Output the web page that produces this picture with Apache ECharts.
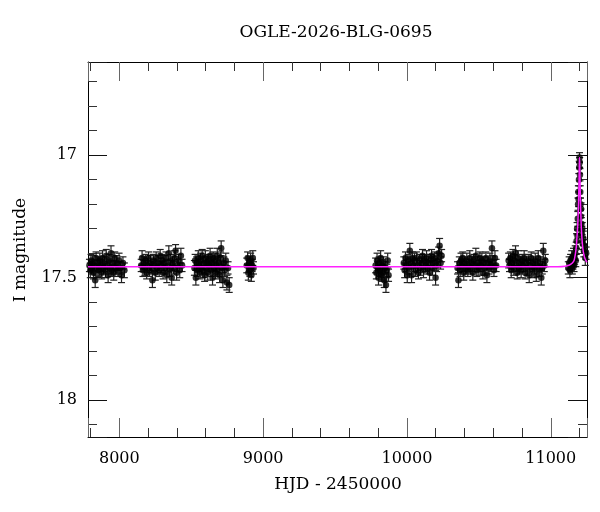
<!DOCTYPE html>
<html><head><meta charset="utf-8">
<script src="https://cdn.jsdelivr.net/npm/echarts@6/dist/echarts.min.js"></script>
<style>html,body{margin:0;padding:0;background:#fff}#c{width:600px;height:512px}</style>
</head><body><div id="c"></div>
<script>
const chartTitle = 'OGLE-2026-BLG-0695';
const xName = 'HJD - 2450000';
const yName = 'I magnitude';
const xRange = [7782, 11252];
const yRange = [16.62, 18.15];

// [HJD-2450000, I mag, error]
const season1 = [[7792,17.45,0.025],[7798,17.47,0.03],[7803,17.43,0.025],[7808,17.46,0.025],[7814,17.44,0.03],[7820,17.48,0.025],[7826,17.45,0.025],[7832,17.51,0.03],[7838,17.42,0.025],[7845,17.46,0.03],[7851,17.44,0.025],[7858,17.47,0.025],[7864,17.43,0.03],[7870,17.45,0.025],[7877,17.48,0.025],[7883,17.42,0.03],[7890,17.46,0.025],[7896,17.44,0.025],[7903,17.47,0.03],[7909,17.41,0.025],[7916,17.45,0.025],[7922,17.49,0.03],[7929,17.43,0.025],[7935,17.46,0.025],[7942,17.40,0.03],[7948,17.47,0.025],[7955,17.44,0.025],[7961,17.48,0.03],[7968,17.42,0.025],[7975,17.46,0.025],[7982,17.44,0.03],[7990,17.47,0.025],[7998,17.43,0.03],[8006,17.46,0.025],[8015,17.49,0.03],[8025,17.44,0.025],[8035,17.47,0.03]];
const season2 = [[8152,17.45,0.025],[8158,17.42,0.03],[8164,17.47,0.025],[8170,17.44,0.025],[8177,17.46,0.03],[8183,17.43,0.025],[8190,17.48,0.025],[8196,17.45,0.03],[8203,17.42,0.025],[8210,17.47,0.025],[8216,17.44,0.03],[8223,17.46,0.025],[8230,17.51,0.03],[8236,17.43,0.025],[8243,17.45,0.025],[8250,17.48,0.03],[8256,17.42,0.025],[8263,17.46,0.025],[8270,17.44,0.03],[8277,17.47,0.025],[8284,17.41,0.025],[8290,17.45,0.03],[8297,17.43,0.025],[8304,17.48,0.025],[8310,17.44,0.03],[8317,17.46,0.025],[8324,17.42,0.025],[8330,17.49,0.03],[8337,17.45,0.025],[8344,17.40,0.03],[8350,17.47,0.025],[8357,17.43,0.025],[8364,17.50,0.03],[8370,17.44,0.025],[8377,17.46,0.025],[8384,17.42,0.03],[8391,17.39,0.025],[8398,17.48,0.03],[8405,17.45,0.025],[8412,17.43,0.025],[8420,17.47,0.03],[8428,17.41,0.03],[8436,17.45,0.025]];
const season3 = [[8522,17.46,0.03],[8527,17.43,0.025],[8532,17.50,0.03],[8538,17.44,0.025],[8543,17.47,0.025],[8549,17.42,0.03],[8554,17.45,0.025],[8560,17.48,0.025],[8565,17.43,0.03],[8571,17.46,0.025],[8576,17.41,0.025],[8582,17.47,0.03],[8587,17.44,0.025],[8593,17.49,0.025],[8598,17.42,0.03],[8604,17.46,0.025],[8609,17.44,0.025],[8615,17.48,0.03],[8620,17.43,0.025],[8626,17.45,0.025],[8631,17.41,0.03],[8637,17.47,0.025],[8642,17.44,0.025],[8648,17.50,0.03],[8653,17.42,0.025],[8659,17.46,0.025],[8664,17.43,0.03],[8670,17.48,0.025],[8675,17.45,0.025],[8681,17.41,0.03],[8686,17.47,0.025],[8692,17.44,0.025],[8697,17.49,0.03],[8703,17.42,0.025],[8708,17.38,0.03],[8714,17.46,0.025],[8720,17.51,0.03],[8726,17.44,0.025],[8732,17.47,0.025],[8740,17.43,0.03],[8748,17.52,0.03],[8756,17.46,0.025],[8764,17.53,0.03]];
const season4 = [[8886,17.45,0.03],[8892,17.42,0.025],[8897,17.48,0.03],[8903,17.44,0.025],[8908,17.47,0.025],[8913,17.43,0.03],[8918,17.49,0.025],[8923,17.45,0.025],[8928,17.42,0.03],[8933,17.46,0.025]];
const season5 = [[9782,17.45,0.03],[9787,17.48,0.025],[9792,17.43,0.03],[9797,17.46,0.025],[9802,17.50,0.03],[9807,17.44,0.025],[9812,17.47,0.025],[9817,17.42,0.03],[9822,17.49,0.025],[9827,17.45,0.025],[9832,17.48,0.03],[9837,17.44,0.025],[9842,17.51,0.03],[9848,17.46,0.025],[9854,17.53,0.03],[9860,17.47,0.025],[9866,17.43,0.03],[9872,17.49,0.025]];
const season6 = [[9978,17.44,0.025],[9984,17.47,0.03],[9990,17.42,0.025],[9996,17.45,0.025],[10002,17.49,0.03],[10008,17.43,0.025],[10014,17.46,0.025],[10020,17.39,0.03],[10026,17.44,0.025],[10032,17.49,0.03],[10038,17.42,0.025],[10045,17.45,0.025],[10052,17.43,0.03],[10059,17.47,0.025],[10066,17.42,0.025],[10073,17.45,0.03],[10080,17.48,0.025],[10087,17.43,0.025],[10094,17.46,0.03],[10101,17.44,0.025],[10108,17.41,0.025],[10115,17.47,0.03],[10122,17.43,0.025],[10129,17.45,0.025],[10136,17.42,0.03],[10143,17.46,0.025],[10150,17.44,0.025],[10157,17.48,0.03],[10164,17.43,0.025],[10171,17.41,0.025],[10178,17.46,0.03],[10185,17.44,0.025],[10192,17.42,0.025],[10199,17.50,0.03],[10206,17.45,0.025],[10213,17.43,0.03],[10220,17.40,0.025],[10227,17.37,0.03],[10234,17.44,0.025],[10241,17.41,0.025]];
const season7 = [[10352,17.46,0.025],[10358,17.51,0.03],[10364,17.44,0.025],[10370,17.47,0.025],[10376,17.43,0.03],[10382,17.45,0.025],[10388,17.42,0.025],[10395,17.48,0.03],[10402,17.44,0.025],[10409,17.46,0.025],[10416,17.43,0.03],[10423,17.47,0.025],[10430,17.45,0.025],[10437,17.42,0.03],[10444,17.46,0.025],[10451,17.44,0.025],[10458,17.48,0.03],[10465,17.43,0.025],[10472,17.45,0.025],[10479,17.41,0.03],[10486,17.47,0.025],[10493,17.44,0.025],[10500,17.46,0.03],[10507,17.42,0.025],[10514,17.45,0.025],[10521,17.43,0.03],[10528,17.48,0.025],[10535,17.44,0.025],[10542,17.46,0.03],[10549,17.42,0.025],[10556,17.49,0.03],[10563,17.44,0.025],[10570,17.46,0.025],[10577,17.43,0.03],[10584,17.45,0.025],[10591,17.38,0.03],[10598,17.44,0.025],[10605,17.47,0.025],[10612,17.42,0.03],[10620,17.45,0.025]];
const season8 = [[10707,17.43,0.03],[10713,17.45,0.025],[10719,17.42,0.025],[10725,17.47,0.03],[10731,17.44,0.025],[10737,17.41,0.025],[10743,17.46,0.03],[10749,17.43,0.025],[10755,17.40,0.03],[10761,17.45,0.025],[10767,17.48,0.025],[10773,17.42,0.03],[10780,17.46,0.025],[10787,17.44,0.025],[10794,17.47,0.03],[10801,17.43,0.025],[10808,17.45,0.025],[10815,17.42,0.03],[10822,17.48,0.025],[10829,17.44,0.025],[10836,17.46,0.03],[10843,17.43,0.025],[10850,17.49,0.03],[10857,17.45,0.025],[10864,17.42,0.025],[10871,17.47,0.03],[10878,17.44,0.025],[10885,17.46,0.025],[10892,17.43,0.03],[10899,17.49,0.025],[10906,17.45,0.025],[10913,17.42,0.03],[10920,17.47,0.025],[10927,17.44,0.025],[10934,17.50,0.03],[10941,17.46,0.025],[10948,17.39,0.03],[10955,17.45,0.025],[10962,17.43,0.025]];
const season9 = [[11122,17.46,0.025],[11128,17.44,0.025],[11133,17.47,0.03],[11138,17.43,0.025],[11142,17.45,0.025],[11146,17.42,0.03],[11150,17.46,0.025],[11154,17.44,0.025],[11158,17.41,0.03],[11162,17.45,0.025],[11166,17.42,0.025],[11170,17.40,0.03],[11174,17.43,0.025],[11177,17.38,0.025],[11180,17.35,0.03],[11183,17.30,0.025],[11186,17.33,0.025],[11188,17.26,0.03],[11190,17.20,0.025],[11192,17.15,0.025],[11194,17.18,0.03],[11196,17.10,0.025],[11198,17.05,0.025],[11200,17.01,0.02],[11201,17.03,0.02],[11203,17.08,0.025],[11205,17.15,0.025],[11207,17.20,0.025],[11209,17.25,0.03],[11211,17.22,0.025],[11213,17.28,0.025],[11216,17.32,0.03],[11219,17.30,0.025],[11222,17.36,0.025],[11226,17.34,0.03],[11230,17.39,0.025],[11235,17.37,0.025],[11240,17.42,0.03],[11246,17.40,0.025]];

// model curve [HJD-2450000, I mag]
const model = [[7782,17.455],[11050,17.455],[11100,17.453],[11130,17.448],[11150,17.44],[11162,17.43],[11172,17.40],[11178,17.37],[11184,17.32],[11188,17.28],[11192,17.22],[11195,17.15],[11197,17.09],[11199,17.03],[11200,17.01],[11201,17.03],[11203,17.09],[11205,17.15],[11208,17.22],[11212,17.29],[11217,17.34],[11224,17.385],[11234,17.415],[11244,17.43],[11252,17.437]];

const points = [].concat(season1, season2, season3, season4, season5, season6, season7, season8, season9);

const FONT = 'DejaVu Serif';

function xAxisCfg(pos, showLabels) {
  return {
    type: 'value', position: pos, min: xRange[0], max: xRange[1], splitNumber: 4,
    axisLine: { show: true, onZero: false, lineStyle: { color: '#000', width: 1 } },
    axisTick: { show: true, inside: true, length: 19, lineStyle: { color: '#666', width: 1 } },
    minorTick: { show: true, splitNumber: 5, length: 9, lineStyle: { color: '#333', width: 1 } },
    splitLine: { show: false }, minorSplitLine: { show: false },
    axisLabel: { show: showLabels, showMinLabel: false, showMaxLabel: false, margin: 14,
      color: '#000', fontFamily: FONT, fontSize: 16, formatter: v => String(v) }
  };
}
function yAxisCfg(pos, showLabels) {
  return {
    type: 'value', position: pos, inverse: true, min: yRange[0], max: yRange[1], splitNumber: 3,
    axisLine: { show: true, onZero: false, lineStyle: { color: '#000', width: 1 } },
    axisTick: { show: true, inside: true, length: 19, lineStyle: { color: '#111', width: 1 } },
    minorTick: { show: true, splitNumber: 5, length: 9, lineStyle: { color: '#333', width: 1 } },
    splitLine: { show: false }, minorSplitLine: { show: false },
    axisLabel: { show: showLabels, showMinLabel: false, showMaxLabel: false, margin: 11,
      color: '#000', fontFamily: FONT, fontSize: 16, formatter: v => String(v) }
  };
}

const chart = echarts.init(document.getElementById('c'), null, { renderer: 'canvas' });
chart.setOption({
  animation: false,
  backgroundColor: '#fff',
  grid: { left: 88, right: 13, top: 62, bottom: 75, containLabel: false },
  xAxis: [xAxisCfg('bottom', true), xAxisCfg('top', false)],
  yAxis: [yAxisCfg('left', true), yAxisCfg('right', false)],
  graphic: [
    { type: 'text', x: 336, y: 33, style: { text: chartTitle, fontFamily: FONT, fontSize: 17, fill: '#000', align: 'center', verticalAlign: 'middle', textAlign: 'center', textVerticalAlign: 'middle' } },
    { type: 'text', x: 338, y: 485, style: { text: xName, fontFamily: FONT, fontSize: 17, fill: '#000', align: 'center', verticalAlign: 'middle', textAlign: 'center', textVerticalAlign: 'middle' } },
    { type: 'text', x: 21, y: 250, rotation: Math.PI / 2, style: { text: yName, fontFamily: FONT, fontSize: 17, fill: '#000', align: 'center', verticalAlign: 'middle', textAlign: 'center', textVerticalAlign: 'middle' } }
  ],
  series: [
    {
      type: 'custom', xAxisIndex: 0, yAxisIndex: 0, data: points, encode: { x: 0, y: 1 }, z: 2,
      renderItem: function (params, api) {
        const x = api.value(0), y = api.value(1), e = api.value(2);
        const a = api.coord([x, y - e]), b = api.coord([x, y + e]);
        const hw = 3.5;
        const st = { stroke: '#222', lineWidth: 1.2 };
        return { type: 'group', children: [
          { type: 'line', shape: { x1: a[0], y1: a[1], x2: b[0], y2: b[1] }, style: st },
          { type: 'line', shape: { x1: a[0] - hw, y1: a[1], x2: a[0] + hw, y2: a[1] }, style: st },
          { type: 'line', shape: { x1: b[0] - hw, y1: b[1], x2: b[0] + hw, y2: b[1] }, style: st }
        ] };
      }
    },
    {
      type: 'scatter', xAxisIndex: 0, yAxisIndex: 0, data: points.map(p => [p[0], p[1]]),
      symbol: 'circle', symbolSize: 6.5, itemStyle: { color: '#000' }, z: 3
    },
    {
      type: 'line', xAxisIndex: 0, yAxisIndex: 0, data: model, showSymbol: false, symbol: 'none',
      lineStyle: { color: '#ff22ff', width: 1.5 }, z: 4, smooth: 0.2
    }
  ]
});
</script>
</body></html>
